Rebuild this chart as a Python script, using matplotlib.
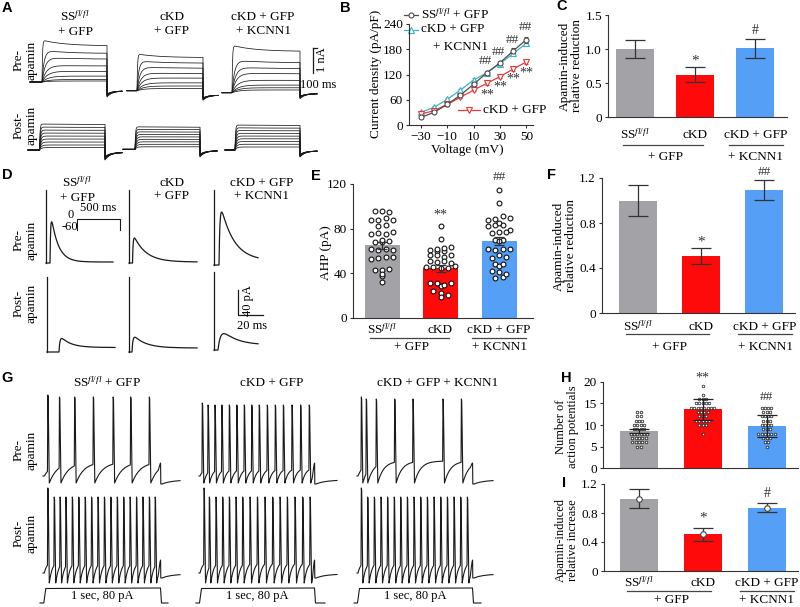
import numpy as np
import matplotlib
matplotlib.use("Agg")
import matplotlib.pyplot as plt

plt.rcParams['font.family'] = ['Liberation Serif', 'DejaVu Serif']
plt.rcParams['mathtext.fontset'] = 'custom'
plt.rcParams['mathtext.rm'] = 'Liberation Serif'
plt.rcParams['mathtext.it'] = 'Liberation Serif:italic'
plt.rcParams['font.size'] = 9.5

W, H = 800, 607
GRAY, RED, BLUE = '#a3a3a7', '#fe0a0a', '#559ff7'
INK = '#1a1a1a'
AXC = '#333333'
FS = 9.5

# ---------------- data ----------------
groups = ['SS$^{fl/fl}$', 'cKD', 'cKD + GFP']

# A: step current amplitudes (nA), one list per trace family
A_pre_ss = [1.68, 1.28, 1.0, 0.68, 0.44, 0.24, 0.1, 0.04]
A_pre_ckd = [1.47, 1.2, 0.96, 0.72, 0.52, 0.32, 0.19, 0.09]
A_pre_kcnn1 = [1.9, 1.32, 1.04, 0.8, 0.51, 0.31, 0.2, 0.11]
A_post_ss = [1.04, 0.92, 0.8, 0.68, 0.56, 0.44, 0.32, 0.2, 0.1]
A_post_ckd = [0.9, 0.8, 0.7, 0.6, 0.5, 0.4, 0.3, 0.2, 0.1]
A_post_kcnn1 = [1.0, 0.89, 0.78, 0.67, 0.56, 0.45, 0.34, 0.23, 0.12]

# B: I-V curves
volt = [-30, -20, -10, 0, 10, 20, 30, 40, 50]
iv_ss = [18, 30, 49, 71, 97, 124, 148, 176, 203]
iv_ss_err = [2, 2, 3, 3, 4, 4, 5, 6, 7]
iv_kcnn1 = [30, 42, 61, 83, 107, 124, 146, 170, 194]
iv_kcnn1_err = [2, 2, 3, 3, 4, 4, 5, 5, 6]
iv_ckd = [26, 34, 49, 66, 83, 99, 115, 133, 150]
iv_ckd_err = [2, 2, 3, 3, 3, 4, 4, 5, 5]
sig_v = [20, 30, 40, 50]
hash_y = [152, 173, 202, 232]
star_y = [71, 90, 109, 123]

# C
C_mean = [1.0, 0.62, 1.01]
C_err = [0.13, 0.11, 0.14]

# D: AHP current amplitudes (pA) and decay (ms)
D_pre_amp = [66, 40, 85]
D_pre_tau = [5.6, 9.6, 10.4]
D_post_amp = [22, 24, 27]
D_post_tau = [8.0, 9.6, 11.2]

# E
E_mean = [65, 44.5, 69]
E_err = [3.2, 3.0, 3.5]
E_ss = [96, 96, 95, 88, 88, 90, 88, 82, 83, 75, 76, 75, 77, 68, 68, 69, 70, 62, 61,
        62, 61, 53, 54, 55, 55, 43, 43, 44, 38, 39, 32]
E_ckd = [82, 71, 60, 60, 61, 62, 63, 64, 56, 56, 55, 56, 51, 50, 51, 49, 46, 46, 45,
         45, 47, 31, 29, 31, 30, 31, 24, 22, 21, 19]
E_kcnn1 = [115, 103, 88, 89, 91, 90, 82, 83, 85, 83, 76, 77, 79, 77, 70, 70, 69, 62,
           61, 62, 62, 54, 56, 55, 48, 47, 48, 42, 41, 36, 37, 39]

# F
F_mean = [1.0, 0.505, 1.093]
F_err = [0.135, 0.07, 0.09]

# G: spike times (fraction of the 1 s step)
G_pre_ss = [0.03, 0.13, 0.26, 0.42, 0.59, 0.74, 0.90]
G_pre_ckd = [0.02, 0.07, 0.13, 0.19, 0.255, 0.32, 0.385, 0.45, 0.515, 0.585, 0.655,
             0.725, 0.80, 0.875, 0.95]
G_pre_kcnn1 = [0.029, 0.072, 0.159, 0.319, 0.478, 0.739, 0.899]
G_post_ss = [0.03, 0.085, 0.135, 0.185, 0.24, 0.295, 0.35, 0.405, 0.46, 0.515, 0.57,
             0.625, 0.68, 0.735, 0.79, 0.845, 0.90, 0.95]
G_post_ckd = [0.035, 0.081, 0.139, 0.197, 0.255, 0.313, 0.371, 0.435, 0.499, 0.565,
              0.632, 0.696, 0.759, 0.826, 0.893, 0.957]
G_post_kcnn1 = [0.029, 0.084, 0.142, 0.2, 0.257, 0.315, 0.371, 0.429, 0.487, 0.545,
                0.603, 0.661, 0.719, 0.777, 0.835, 0.893, 0.951]

# H
H_mean = [8.6, 13.6, 9.8]
H_err = [0.4, 2.5, 2.6]
H_ss = [13, 13, 12, 12, 11, 11, 11, 10, 10, 10, 10, 9, 9, 9, 9, 8, 8, 8, 8, 8, 8,
        7, 7, 7, 7, 7, 6, 6, 6, 6, 6, 5, 5]
H_ckd = [19, 17, 16, 16, 16, 15, 15, 15, 15, 15, 14, 14, 14, 14, 14, 14, 14, 14,
         13, 13, 13, 13, 12, 12, 12, 11, 11, 11, 11, 11, 10, 10, 10, 8]
H_kcnn1 = [14, 14, 14, 14, 13, 13, 13, 12, 12, 12, 12, 11, 11, 11, 10, 10, 10, 10,
           9, 9, 9, 8, 8, 8, 8, 8, 8, 7, 7, 7, 6, 6, 5]

# I
I_mean = [1.0, 0.51, 0.875]
I_err = [0.125, 0.09, 0.06]

# ---------------- figure ----------------
fig = plt.figure(figsize=(W / 100, H / 100), dpi=100)
ov = fig.add_axes([0, 0, 1, 1], facecolor='none')
ov.set_xlim(0, W)
ov.set_ylim(H, 0)
ov.axis('off')


def px_axes(x0, y0, x1, y1):
    return fig.add_axes([x0 / W, 1 - y1 / H, (x1 - x0) / W, (y1 - y0) / H], facecolor='none')


def style(ax):
    for s in ['top', 'right']:
        ax.spines[s].set_visible(False)
    for s in ['left', 'bottom']:
        ax.spines[s].set_linewidth(0.8)
        ax.spines[s].set_color(AXC)
    ax.tick_params(length=2.5, width=0.8, color=AXC, pad=1.8, labelsize=FS)


def txt(x, y, s, **kw):
    kw.setdefault('fontsize', FS)
    kw.setdefault('ha', 'center')
    kw.setdefault('va', 'center')
    ov.text(x, y, s, **kw)


def panel_label(x, y, s):
    ov.text(x, y, s, fontsize=10.5, fontweight='bold', family=['Liberation Sans', 'DejaVu Sans'],
            ha='center', va='center')


def row_labels(x, y_pre, y_post):
    txt(x, y_pre, 'Pre-\napamin', rotation=90, linespacing=1.0)
    txt(x, y_post, 'Post-\napamin', rotation=90, linespacing=1.0)


# ---------------- A ----------------
PX_NA = 25.0


def step_family(x0, x_on, x_off, x_end, base, amps, inact, tau_on, tail_off, tail_depth):
    amax = max(amps)
    for a in amps:
        ap = a * PX_NA
        t = np.linspace(0, x_off - x_on, 300)
        ton = 0.5 + tau_on * (1 - a / amax)
        d = inact * a / amax
        y_on = base - ap * (1 - np.exp(-t / ton)) * (1 - d * (1 - np.exp(-t / 22)))
        tt = np.linspace(0, x_end - x_off, 120)
        y_tail = base + tail_off + tail_depth * (0.5 + 0.5 * a / amax) * np.exp(-tt / 5)
        x = np.r_[x0, x_on, x_on + t, x_off + tt]
        y = np.r_[base, base, y_on, y_tail]
        ov.plot(x, y, color=INK, lw=0.55)


step_family(30, 42, 107, 122, 82, A_pre_ss, 0.14, 7, 9, 6)
step_family(127, 137, 203, 218, 90.7, A_pre_ckd, 0.10, 7, 4.5, 5)
step_family(222, 232, 300, 317, 92.7, A_pre_kcnn1, 0.13, 7, 1, 5)
step_family(28, 39.5, 105, 122, 150, A_post_ss, 0.02, 1.5, 2.5, 7.5)
step_family(123, 135, 200, 217, 149.3, A_post_ckd, 0.02, 1.5, 1.5, 6)
step_family(225, 235, 300, 317, 150, A_post_kcnn1, 0.02, 1.5, 1, 6)
ov.plot([313, 313], [48, 73], color=INK, lw=0.9)
ov.plot([313, 317], [48, 48], color=INK, lw=0.9)
txt(322, 60, '1 nA', rotation=90, fontsize=9)
txt(318, 85, '100 ms', fontsize=9)

txt(75, 24, 'SS$^{fl/fl}$\n+ GFP')
txt(172, 24, 'cKD\n+ GFP')
txt(263, 24, 'cKD + GFP\n+ KCNN1')
row_labels(25, 60, 125)
panel_label(7, 8, 'A')

# ---------------- B ----------------
axB = px_axes(409, 24, 533, 125)
style(axB)
axB.errorbar(volt, iv_ss, yerr=iv_ss_err, color='#4d4d4d', lw=0.9, marker='o', ms=3.6,
             mfc='white', mec='#4d4d4d', mew=0.8, capsize=1.5, elinewidth=0.7, zorder=4)
axB.errorbar(volt, iv_kcnn1, yerr=iv_kcnn1_err, color='#3bb3c3', lw=0.9, marker='^', ms=3.8,
             mfc='white', mec='#3bb3c3', mew=0.8, capsize=1.5, elinewidth=0.7, zorder=3)
axB.errorbar(volt, iv_ckd, yerr=iv_ckd_err, color='#e8383a', lw=0.9, marker='v', ms=3.8,
             mfc='white', mec='#e8383a', mew=0.8, capsize=1.5, elinewidth=0.7, zorder=3)
for v, hy, sy in zip(sig_v, hash_y, star_y):
    axB.text(v - 1, hy, '##', ha='center', va='center', fontsize=9.5, color='#333333')
    axB.text(v, sy, '**', ha='center', va='center', fontsize=10, color='#333333')
axB.set_xlim(-39, 55)
axB.set_ylim(0, 240)
axB.set_xticks([-30, -10, 10, 30, 50])
axB.set_yticks([0, 60, 120, 180, 240])
txt(467, 150, 'Voltage (mV)')
txt(376, 74, 'Current density (pA/pF)', rotation=90)
ov.plot([404, 418], [15, 15], color='#4d4d4d', lw=0.9)
ov.plot([411], [15], marker='o', ms=3.6, mfc='white', mec='#4d4d4d', mew=0.8)
txt(421, 15, 'SS$^{fl/fl}$ + GFP', ha='left')
ov.plot([404, 418], [29.5, 29.5], color='#3bb3c3', lw=0.9)
ov.plot([411], [29.5], marker='^', ms=3.8, mfc='white', mec='#3bb3c3', mew=0.8)
txt(421, 29.5, 'cKD + GFP', ha='left')
txt(433, 46.5, '+ KCNN1', ha='left')
ov.plot([458, 480], [110, 110], color='#e8383a', lw=0.9)
ov.plot([469], [110], marker='v', ms=3.8, mfc='white', mec='#e8383a', mew=0.8)
txt(483, 110, 'cKD + GFP', ha='left')
panel_label(345, 8, 'B')


# ---------------- bar panels ----------------
def bar_panel(box, centers_px, width_px, ylim, yticks, yticklabels, means, errs, capsize,
              row1_dy, line_dy, row2_dy):
    x0, y0, x1, y1 = box
    sp = centers_px[1] - centers_px[0]
    xl = (-(centers_px[0] - x0) / sp, (x1 - centers_px[0]) / sp)
    ax = px_axes(x0, y0, x1, y1)
    style(ax)
    ax.set_xlim(*xl)
    ax.set_ylim(*ylim)
    ax.set_xticks([])
    ax.set_yticks(yticks)
    ax.set_yticklabels(yticklabels)
    xs = np.arange(3)
    ax.bar(xs, means, width=width_px / sp, color=[GRAY, RED, BLUE], zorder=1)
    ax.errorbar(xs, means, yerr=errs, fmt='none', ecolor=AXC, elinewidth=0.9,
                capsize=capsize, capthick=0.9, zorder=5)
    yb = y1
    for c, s in zip(centers_px, groups):
        txt(c, yb + row1_dy, s)
    c0, c1, c2 = centers_px
    ov.plot([c0 - 12, c1 + 8], [yb + line_dy] * 2, color='#444444', lw=0.9)
    ov.plot([c2 - 27, c2 + 27], [yb + line_dy] * 2, color='#444444', lw=0.9)
    txt((c0 + c1) / 2, yb + row2_dy, '+ GFP')
    txt(c2, yb + row2_dy, '+ KCNN1')
    return ax


def swarm(values, center, bin_w, step):
    vals = np.asarray(values, float)
    bins = np.round(vals / bin_w).astype(int)
    offs = np.zeros_like(vals)
    for b in np.unique(bins):
        idx = np.where(bins == b)[0]
        offs[idx] = (np.arange(len(idx)) - (len(idx) - 1) / 2) * step
    return center + offs


# C
axC = bar_panel((608, 15, 787, 117), [635, 695, 756], 38, (0, 1.5), [0, 0.5, 1.0, 1.5],
                ['0', '0.5', '1.0', '1.5'], C_mean, C_err, 7, 18, 28, 40)
axC.text(1, 0.83, '*', ha='center', va='center', fontsize=11, color=AXC)
axC.text(2, 1.27, '#', ha='center', va='center', fontsize=10, color=AXC)
txt(571, 66, 'Apamin-induced\nrelative reduction', rotation=90, linespacing=1.0)
panel_label(562, 6, 'C')

# E
axE = bar_panel((353, 184, 533, 318), [382, 440.5, 499], 35, (0, 120), [0, 40, 80, 120],
                ['0', '40', '80', '120'], E_mean, E_err, 3.5, 12, 20, 29)
for i, vals in enumerate([E_ss, E_ckd, E_kcnn1]):
    axE.scatter(swarm(vals, i, 4.5, 0.12), vals, s=12, facecolor='white', edgecolor='#111111',
                linewidth=0.8, zorder=3, clip_on=False)
axE.text(1, 92, '**', ha='center', va='center', fontsize=10, color=AXC)
axE.text(2, 126, '##', ha='center', va='center', fontsize=9.5, color=AXC, clip_on=False)
txt(326, 253, 'AHP (pA)', rotation=90)
panel_label(316, 176, 'E')

# F
axF = bar_panel((602, 178, 795, 313), [638, 701, 765], 38, (0, 1.2), [0, 0.4, 0.8, 1.2],
                ['0', '0.4', '0.8', '1.2'], F_mean, F_err, 7, 14, 21, 34)
axF.text(1, 0.63, '*', ha='center', va='center', fontsize=11, color=AXC)
axF.text(2, 1.255, '##', ha='center', va='center', fontsize=9.5, color=AXC)
txt(565, 246, 'Apamin-induced\nrelative reduction', rotation=90, linespacing=1.0)
panel_label(551, 175, 'F')

# H
axH = px_axes(603, 381.7, 798, 468.3)
style(axH)
sp = 63.75
axH.set_xlim(-(639 - 603) / sp, (798 - 639) / sp)
axH.set_ylim(0, 20)
axH.set_xticks([])
axH.set_yticks([0, 5, 10, 15, 20])
axH.bar(np.arange(3), H_mean, width=38 / sp, color=[GRAY, RED, BLUE], zorder=1)
for i, vals in enumerate([H_ss, H_ckd, H_kcnn1]):
    axH.scatter(swarm(vals, i, 1, 0.052), vals, s=3.5, facecolor='white', edgecolor='#222222',
                linewidth=0.55, zorder=3, clip_on=False)
axH.errorbar(np.arange(3), H_mean, yerr=H_err, fmt='none', ecolor='#222222', elinewidth=0.9,
             capsize=7, capthick=0.9, zorder=5)
axH.text(1, 20.9, '**', ha='center', va='center', fontsize=10, color=AXC, clip_on=False)
axH.text(2, 16.5, '##', ha='center', va='center', fontsize=9.5, color=AXC)
txt(567, 427, 'Number of\naction potentials', rotation=90, linespacing=1.0, fontsize=9)
panel_label(566, 378, 'H')

# I
axI = bar_panel((604, 484, 798, 571), [639, 703, 766.5], 38, (0, 1.2), [0, 0.4, 0.8, 1.2],
                ['0', '0.4', '0.8', '1.2'], I_mean, I_err, 7, 12, 20, 29)
axI.plot(np.arange(3), I_mean, ls='none', marker='o', ms=4, mfc='white', mec='#444444',
         mew=0.8, zorder=6)
axI.text(1, 0.73, '*', ha='center', va='center', fontsize=11, color=AXC)
axI.text(2, 1.07, '#', ha='center', va='center', fontsize=10, color=AXC)
txt(567, 540, 'Apamin-induced\nrelative increase', rotation=90, linespacing=1.0, fontsize=9)
panel_label(564, 483, 'I')

# ---------------- D ----------------
PX_PA = 25 / 40.0
PX_MS = 25 / 20.0


def ahp_trace(x_art, art_top, base, x_on, x_end, amp, tau, tau_r, plateau):
    ov.plot([x_art, x_art], [art_top, base], color=INK, lw=0.9)
    t = np.linspace(0, x_end - x_on, 600)
    td = tau * PX_MS
    s = np.exp(-t / td) - np.exp(-t / tau_r)
    s = s / s.max()
    a = amp * PX_PA
    y = base - (a - plateau) * s - plateau * (1 - np.exp(-t / tau_r))
    ov.plot(np.r_[x_art, x_on, x_on + t], np.r_[base, base, y], color=INK, lw=0.9)


ahp_trace(46, 190, 263, 50, 113, D_pre_amp[0], D_pre_tau[0], 0.6, 1.0)
ahp_trace(129, 190, 263, 132.5, 197, D_pre_amp[1], D_pre_tau[1], 0.6, 1.0)
ahp_trace(214, 190, 265, 219, 258, D_pre_amp[2], D_pre_tau[2], 0.9, 4.0)
ahp_trace(47, 277, 352, 59, 115, D_post_amp[0], D_post_tau[0], 0.9, 4.5)
ahp_trace(129, 277, 352, 132, 197, D_post_amp[1], D_post_tau[1], 0.9, 4.0)
ahp_trace(214, 272, 350, 218, 258, D_post_amp[2], D_post_tau[2], 2.5, 5.0)
# protocol inset
ov.plot([77, 77, 120, 120], [230, 219, 219, 230], color=INK, lw=0.8)
txt(71, 215, '0', fontsize=9)
txt(78, 227, '-60', fontsize=9, ha='right')
txt(98, 208, '500 ms', fontsize=9)
# scale bar
ov.plot([238, 238, 263], [290, 315, 315], color=INK, lw=0.9)
txt(248, 301, '40 pA', rotation=90, fontsize=9)
txt(252, 326, '20 ms', fontsize=9)

txt(77, 189.5, 'SS$^{fl/fl}$\n+ GFP')
txt(172, 189.5, 'cKD\n+ GFP')
txt(262, 189.5, 'cKD + GFP\n+ KCNN1')
row_labels(25, 240, 303)
panel_label(7, 175, 'D')


# ---------------- G ----------------
def spike_train(x0, s0, s1, x1, times, base, peak, trough, thr, tau, bump_y, after, first_gain):
    xs = [x0, s0]
    ys = [base, base]
    sp_x = s0 + np.asarray(times) * (s1 - s0)
    cx, cy = s0, base
    for i, ts in enumerate(sp_x):
        seg = np.linspace(cx, ts - 0.35, max(int((ts - cx) * 5), 2))
        xs += list(seg)
        ys += list(thr + (cy - thr) * np.exp(-(seg - cx) / tau))
        pk = peak - (first_gain if i == 0 else 0)
        xs += [ts, ts + 0.35, ts + 1.5]
        ys += [pk, pk + 2, trough]
        cx, cy = ts + 1.5, trough
    end_b = s1 - 3.5
    if end_b > cx:
        seg = np.linspace(cx, end_b, max(int((end_b - cx) * 5), 2))
        xs += list(seg)
        ys += list(thr + (cy - thr) * np.exp(-(seg - cx) / tau))
    hb = np.linspace(0, 1, 20)
    xs += list(s1 - 3.5 + 4.5 * hb)
    ys += list(ys[-1] + (bump_y - ys[-1]) * np.sin(np.pi * hb * 0.7) ** 2 * (hb < 0.72)
               + (after - ys[-1]) * (hb >= 0.72))
    seg = np.linspace(s1 + 1, x1, 60)
    xs += list(seg)
    ys += list(after - 4 + 4 * np.exp(-(seg - s1 - 1) / 10))
    ov.plot(xs, ys, color=INK, lw=0.8)


def stim_trace(x0, s0, s1, x1):
    ov.plot([x0, s0 - 0.5, s0 + 1.5, s1 - 0.5, s1 + 0.5, x1],
            [603, 603, 588.5, 588, 603, 603], color=INK, lw=0.8)
    txt((s0 + s1) / 2, 596, '1 sec, 80 pA', fontsize=9)


cols = [(43, 44.3, 161, 180), (199, 200, 315, 337), (357, 358, 473, 493)]
pre_trains = [G_pre_ss, G_pre_ckd, G_pre_kcnn1]
post_trains = [G_post_ss, G_post_ckd, G_post_kcnn1]
pre_par = [(397, 483, 462, 8), (405, 483, 468, 3.5), (399, 483, 461, 6)]
for (x0, s0, s1, x1), tr, (pk, tg, th, tau) in zip(cols, pre_trains, pre_par):
    spike_train(x0, s0, s1, x1, tr, 476, pk, tg, th, tau, 463, 484, 2)
for (x0, s0, s1, x1), tr in zip(cols, post_trains):
    spike_train(x0, s0, s1, x1, tr, 573, 497, 583, 561, 3, 560, 578, 9)
    stim_trace(x0 - 3, s0, s1, x1 - 12)

txt(107, 383, 'SS$^{fl/fl}$ + GFP')
txt(272, 383, 'cKD + GFP')
txt(438, 383, 'cKD + GFP + KCNN1')
row_labels(25, 450, 533)
panel_label(7, 378, 'G')

fig.savefig('out.png', dpi=100)
